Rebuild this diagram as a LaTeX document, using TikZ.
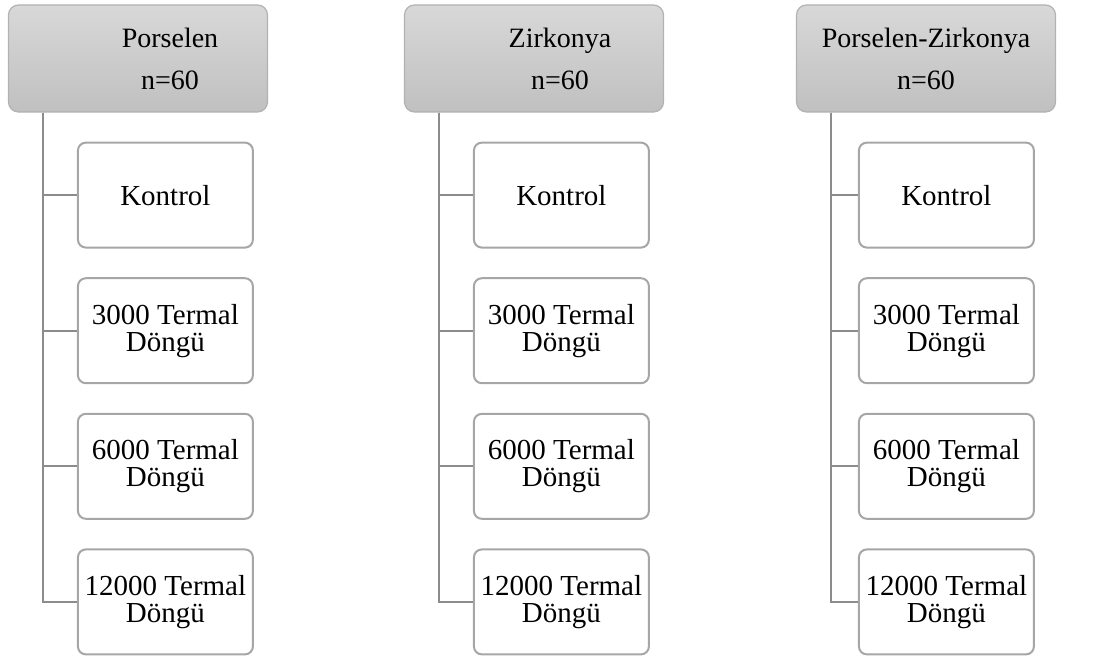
\documentclass[tikz,border=0pt]{standalone}
\usepackage{fontspec}
\setmainfont{Liberation Serif}
\usetikzlibrary{positioning}
\definecolor{hdtop}{RGB}{216,216,216}
\definecolor{hdbot}{RGB}{192,192,192}
\definecolor{hdline}{RGB}{178,178,178}
\definecolor{boxline}{RGB}{166,166,166}
\definecolor{treeline}{RGB}{140,140,140}
\tikzset{
    group/.style={
        rectangle, rounded corners=5pt, draw=hdline, line width=0.6pt,
        top color=hdtop, bottom color=hdbot,
        minimum width=129.5pt, minimum height=53.5pt
    },
    grouptext/.style={
        align=center, font=\fontsize{14}{21}\selectfont
    },
    testbox/.style={
        rectangle, rounded corners=4pt, draw=boxline, line width=1pt,
        fill=white, minimum width=87.5pt, minimum height=52.5pt,
        align=center, inner sep=1pt, font=\fontsize{14.5}{13.5}\selectfont
    },
    branch/.style={draw=treeline, line width=1.1pt}
}
\begin{document}
\begin{tikzpicture}
\useasboundingbox (0,0) rectangle (550.5pt,-329pt);

% Porselen
\node[group] (por) at (69pt,-29.25pt) {};
\node[grouptext, xshift=16pt] (portxt) at (por) {Porselen\\n=60};
\node[testbox, below right=14.5pt and 34.5pt of por.south west] (por1) {Kontrol};
\node[testbox, below=14.3pt of por1] (por2) {3000 Termal\\Döngü};
\node[testbox, below=14.3pt of por2] (por3) {6000 Termal\\Döngü};
\node[testbox, below=14.3pt of por3] (por4) {12000 Termal\\Döngü};
\coordinate (porroot) at ([xshift=17.5pt]por.south west);
\draw[branch] (porroot) |- (por1.west);
\draw[branch] (porroot) |- (por2.west);
\draw[branch] (porroot) |- (por3.west);
\draw[branch] (porroot) |- (por4.west);

% Zirkonya
\node[group] (zir) at (267pt,-29.25pt) {};
\node[grouptext, xshift=13pt] (zirtxt) at (zir) {Zirkonya\\n=60};
\node[testbox, below right=14.5pt and 34.5pt of zir.south west] (zir1) {Kontrol};
\node[testbox, below=14.3pt of zir1] (zir2) {3000 Termal\\Döngü};
\node[testbox, below=14.3pt of zir2] (zir3) {6000 Termal\\Döngü};
\node[testbox, below=14.3pt of zir3] (zir4) {12000 Termal\\Döngü};
\coordinate (zirroot) at ([xshift=17.5pt]zir.south west);
\draw[branch] (zirroot) |- (zir1.west);
\draw[branch] (zirroot) |- (zir2.west);
\draw[branch] (zirroot) |- (zir3.west);
\draw[branch] (zirroot) |- (zir4.west);

% Porselen-Zirkonya
\node[group] (pz) at (463pt,-29.25pt) {};
\node[grouptext] (pztxt) at (pz) {Porselen-Zirkonya\\n=60};
\node[testbox, below right=14.5pt and 31pt of pz.south west] (pz1) {Kontrol};
\node[testbox, below=14.3pt of pz1] (pz2) {3000 Termal\\Döngü};
\node[testbox, below=14.3pt of pz2] (pz3) {6000 Termal\\Döngü};
\node[testbox, below=14.3pt of pz3] (pz4) {12000 Termal\\Döngü};
\coordinate (pzroot) at ([xshift=17.5pt]pz.south west);
\draw[branch] (pzroot) |- (pz1.west);
\draw[branch] (pzroot) |- (pz2.west);
\draw[branch] (pzroot) |- (pz3.west);
\draw[branch] (pzroot) |- (pz4.west);

\end{tikzpicture}
\end{document}
